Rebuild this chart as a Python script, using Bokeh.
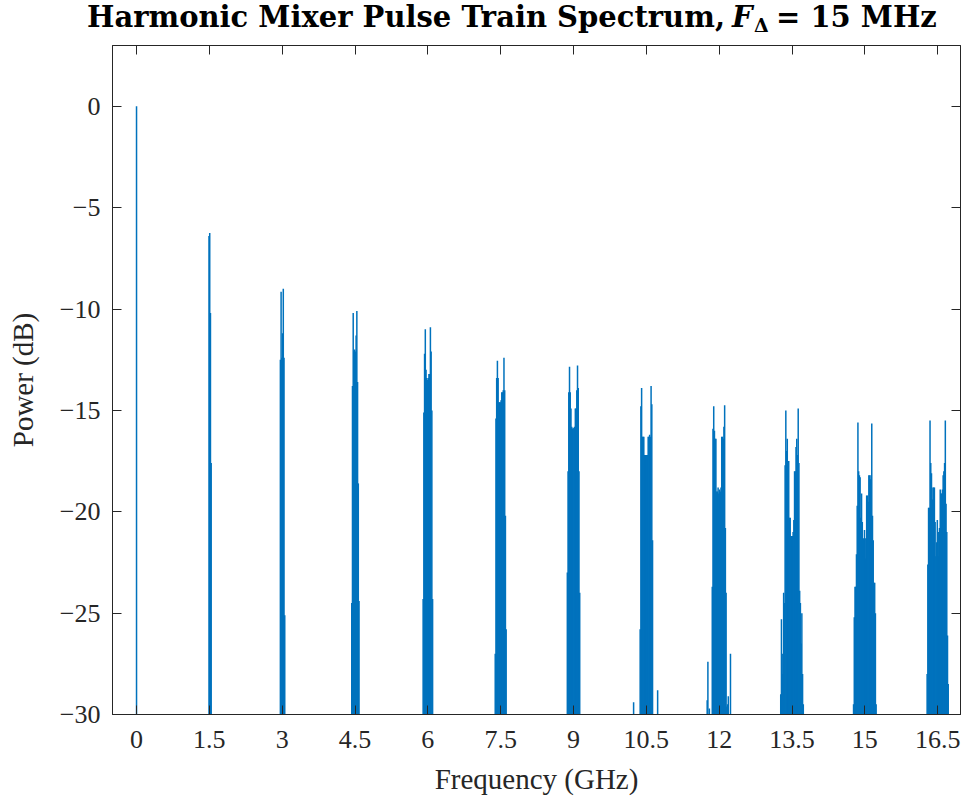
from bokeh.plotting import figure
from bokeh.layouts import column
from bokeh.models import (Range1d, LinearAxis, FixedTicker, CustomJSTickFormatter,
                          ColumnDataSource, Div)
from bokeh.embed import file_html
from bokeh.resources import INLINE

# Harmonic centres of the 1.5 GHz pulse train (GHz)
harmonics_ghz = [0.0, 1.5, 3.0, 4.5, 6.0, 7.5, 9.0, 10.5, 12.0, 13.5, 15.0, 16.5]

# Spectral lines around each harmonic: offset from the harmonic (MHz) and power (dB)
h00_mhz = [0.0]
h00_db = [0.0]

h01_mhz = [-7.5, 7.5, 22.5, 37.5]
h01_db = [-6.4, -6.25, -10.2, -17.6]

h02_mhz = [-37.5, -22.5, -7.5, 7.5, 22.5, 37.5, 52.5]
h02_db = [-12.5, -9.15, -12.4, -11.2, -9.0, -12.4, -25.1]

h03_mhz = [-67.5, -52.5, -37.5, -22.5, -7.5, 7.5, 22.5, 37.5, 52.5, 67.5, 82.5]
h03_db = [-24.5, -13.8, -10.2, -12.1, -12.0, -12.1, -11.3, -10.1, -13.6, -18.6, -24.4]

h04_mhz = [-97.5, -82.5, -67.5, -52.5, -37.5, -22.5, -7.5,
           7.5, 22.5, 37.5, 52.5, 67.5, 82.5, 97.5]
h04_db = [-24.3, -15.1, -12.2, -11.0, -13.0, -13.4, -13.5,
          -13.4, -13.2, -13.2, -10.9, -12.1, -15.0, -24.3]

h05_mhz = [-112.5, -97.5, -82.5, -67.5, -52.5, -37.5, -22.5, -7.5,
           7.5, 22.5, 37.5, 52.5, 67.5, 82.5, 97.5, 112.5]
h05_db = [-27.0, -15.4, -13.4, -12.55, -13.4, -14.6, -14.6, -14.6,
          -14.5, -14.1, -14.1, -14.0, -12.4, -14.0, -20.2, -25.8]

h06_mhz = [-127.5, -112.5, -97.5, -82.5, -67.5, -52.5, -37.5, -22.5, -7.5,
           7.5, 22.5, 37.5, 52.5, 67.5, 82.5, 97.5, 112.5, 127.5]
h06_db = [-23.0, -18.0, -14.1, -12.85, -14.1, -14.9, -15.8, -15.9, -15.85,
          -15.9, -15.8, -14.9, -14.9, -14.0, -12.78, -13.9, -18.0, -24.0]

h07_mhz = [-262.5, -127.5, -112.5, -97.5, -82.5, -67.5, -52.5, -37.5, -22.5, -7.5,
           7.5, 22.5, 37.5, 52.5, 67.5, 82.5, 97.5, 112.5, 127.5, 232.5]
h07_db = [-29.4, -25.8, -14.8, -13.9, -16.3, -16.3, -16.3, -17.2, -17.2, -17.2,
          -17.2, -17.2, -16.3, -16.3, -16.2, -16.3, -13.8, -14.7, -21.4, -28.8]

h08_mhz = [-247.5, -232.5, -202.5, -142.5, -127.5, -112.5, -97.5, -82.5, -67.5,
           -52.5, -37.5, -22.5, -7.5, 7.5, 22.5, 37.5, 52.5, 67.5, 82.5, 97.5,
           112.5, 127.5, 142.5, 157.5, 172.5, 187.5, 232.5]
h08_db = [-29.3, -27.4, -29.7, -23.7, -15.9, -14.8, -16.0, -16.4, -16.4,
          -19.0, -19.0, -18.8, -19.1, -18.9, -19.0, -18.8, -16.3, -16.3, -16.4, -15.8,
          -14.75, -20.8, -24.0, -29.6, -29.5, -29.1, -27.0]

h09_mhz = [-232.5, -217.5, -202.5, -187.5, -172.5, -157.5, -142.5, -127.5,
           -112.5, -97.5, -82.5, -67.5, -52.5, -37.5, -22.5, -7.5,
           7.5, 22.5, 37.5, 52.5, 67.5, 82.5, 97.5, 112.5,
           127.5, 142.5, 157.5, 172.5, 187.5, 202.5, 217.5, 232.5]
h09_db = [-29.0, -25.3, -27.0, -28.0, -24.0, -24.5, -17.7, -15.0,
          -17.0, -16.4, -17.5, -17.5, -20.3, -20.3, -21.2, -21.2,
          -21.2, -21.0, -20.4, -18.0, -18.0, -16.8, -16.4, -17.2,
          -14.9, -17.6, -23.9, -24.5, -26.5, -25.0, -28.0, -29.5]

h10_mhz = [-232.5, -217.5, -202.5, -187.5, -172.5, -157.5, -142.5, -127.5,
           -112.5, -97.5, -82.5, -67.5, -52.5, -37.5, -22.5, -7.5,
           7.5, 22.5, 37.5, 52.5, 67.5, 82.5, 97.5, 112.5,
           127.5, 142.5, 157.5, 172.5, 187.5, 202.5, 217.5, 232.5]
h10_db = [-29.5, -25.2, -23.7, -23.7, -22.1, -19.7, -15.6, -18.0,
          -18.2, -18.3, -20.3, -19.1, -20.5, -22.2, -21.3, -20.9,
          -21.3, -22.3, -19.2, -19.2, -19.5, -18.2, -18.2, -18.4,
          -18.2, -15.65, -20.2, -21.4, -23.5, -23.5, -25.0, -29.5]

h11_mhz = [-217.5, -202.5, -187.5, -172.5, -157.5, -142.5, -127.5, -112.5,
           -97.5, -82.5, -67.5, -52.5, -37.5, -22.5, -7.5,
           7.5, 22.5, 37.5, 52.5, 67.5, 82.5, 97.5, 112.5, 127.5,
           142.5, 157.5, 172.5, 187.5, 202.5, 217.5]
h11_db = [-28.0, -22.6, -19.8, -19.8, -15.5, -17.6, -18.1, -19.4,
          -18.8, -18.8, -18.8, -20.5, -22.2, -21.5, -20.4,
          -22.2, -21.0, -20.8, -18.9, -19.1, -19.1, -18.9, -18.2, -18.0,
          -17.6, -15.5, -19.6, -21.0, -26.1, -28.5]

x_ticks = [0, 1.5, 3, 4.5, 6, 7.5, 9, 10.5, 12, 13.5, 15, 16.5]
y_ticks = [-30, -25, -20, -15, -10, -5, 0]

clusters = [
    (h00_mhz, h00_db), (h01_mhz, h01_db), (h02_mhz, h02_db), (h03_mhz, h03_db),
    (h04_mhz, h04_db), (h05_mhz, h05_db), (h06_mhz, h06_db), (h07_mhz, h07_db),
    (h08_mhz, h08_db), (h09_mhz, h09_db), (h10_mhz, h10_db), (h11_mhz, h11_db),
]

freq_ghz, power_db = [], []
for centre, (offs, levels) in zip(harmonics_ghz, clusters):
    for off, lvl in zip(offs, levels):
        freq_ghz.append(centre + off / 1000.0)
        power_db.append(lvl)

Y_MIN, Y_MAX = -30, 3
src = ColumnDataSource(dict(f=freq_ghz, p=power_db, base=[Y_MIN - 1] * len(freq_ghz)))

INK = "#262626"
SERIF = "Liberation Serif"
W = 964
TITLE_H = 45

# ---- title: bold text with an italic F carrying an upright Delta subscript
title_html = (
    '<div style="position:relative;width:964px;height:45px;'
    "font-family:'DejaVu Serif';font-weight:bold;color:#000;white-space:nowrap;\">"
    '<span style="position:absolute;right:239px;top:2.5px;font-size:29px;'
    'line-height:29px;">Harmonic Mixer Pulse Train Spectrum,</span>'
    '<span style="position:absolute;left:732px;top:2.5px;font-size:29px;'
    'line-height:29px;font-style:italic;">F</span>'
    '<span style="position:absolute;left:754px;top:16px;font-size:19px;'
    'line-height:19px;">\u0394</span>'
    '<span style="position:absolute;left:776px;top:2.5px;font-size:29px;'
    'line-height:29px;">= 15 MHz</span>'
    '</div>'
)
title = Div(text=title_html, width=W, height=TITLE_H, margin=(0, 0, 0, 0))

# ---- spectrum plot
p = figure(width=W, height=804 - TITLE_H, output_backend="svg", toolbar_location=None,
           title=None, x_range=Range1d(-0.495, 16.97), y_range=Range1d(Y_MIN, Y_MAX),
           min_border_left=112, min_border_right=4, min_border_top=0,
           min_border_bottom=90, x_axis_type=None, y_axis_type=None)
p.grid.visible = False
p.outline_line_color = INK
p.outline_line_width = 1
p.background_fill_color = "white"
p.border_fill_color = "white"

p.segment(x0="f", y0="base", x1="f", y1="p", source=src,
          line_color="#0072BD", line_width=1.5, line_cap="butt")

fmt_x = CustomJSTickFormatter(code="return String(tick);")
fmt_y = CustomJSTickFormatter(code="return tick < 0 ? '\u2212' + String(-tick) : String(tick);")
fmt_blank = CustomJSTickFormatter(code="return '';")


def style(ax, labelled):
    ax.axis_line_color = INK
    ax.axis_line_width = 1
    ax.major_tick_line_color = INK
    ax.major_tick_in = 9
    ax.major_tick_out = 0
    ax.minor_tick_line_color = None
    ax.major_label_text_font = SERIF
    ax.major_label_text_font_size = "26px"
    ax.major_label_text_color = INK
    ax.axis_label_text_font = SERIF
    ax.axis_label_text_font_size = "29px"
    ax.axis_label_text_font_style = "normal"
    ax.axis_label_text_color = INK
    if not labelled:
        ax.major_label_text_font_size = "0px"
        ax.major_label_standoff = 0


xb = LinearAxis(ticker=FixedTicker(ticks=x_ticks), formatter=fmt_x,
                axis_label="Frequency (GHz)")
style(xb, True)
xb.major_label_standoff = 16
xb.axis_label_standoff = 12
p.add_layout(xb, "below")

yl = LinearAxis(ticker=FixedTicker(ticks=y_ticks), formatter=fmt_y,
                axis_label="Power (dB)")
style(yl, True)
yl.major_label_standoff = 12
yl.axis_label_standoff = 18
p.add_layout(yl, "left")

xt = LinearAxis(ticker=FixedTicker(ticks=x_ticks), formatter=fmt_blank)
style(xt, False)
p.add_layout(xt, "above")

yr = LinearAxis(ticker=FixedTicker(ticks=y_ticks), formatter=fmt_blank)
style(yr, False)
p.add_layout(yr, "right")

page = column(title, p, spacing=0)
open("out.html", "w").write(file_html(page, INLINE))
